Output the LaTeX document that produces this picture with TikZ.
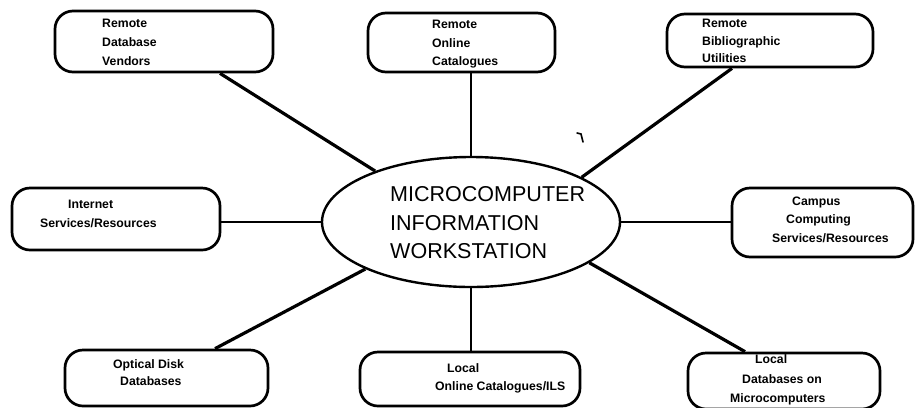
\documentclass[tikz,border=0pt]{standalone}
\usepackage{fontspec}
\setmainfont{Liberation Sans}
\usetikzlibrary{calc,shapes.geometric}
\begin{document}
\begin{tikzpicture}[x=1bp,y=-1bp,
  box/.style={draw,line width=2.7bp,rounded corners=18bp,inner sep=0pt},
  lbl/.style={anchor=base west,inner sep=0pt,font=\bfseries\fontsize{12.3}{14}\selectfont},
  big/.style={anchor=base west,inner sep=0pt,font=\fontsize{21.6}{26}\selectfont},
  link/.style={line width=3.2bp},
  straight/.style={line width=2.2bp}]
\useasboundingbox (0,0) rectangle (915,407);
% central ellipse
\node[draw,ellipse,line width=2.4bp,minimum width=298bp,minimum height=130bp,inner sep=0pt] (e) at (471,222) {};
\node[big] (m1) at (390,201.7) {MICROCOMPUTER};
\node[big] (m2) at (390,230) {INFORMATION};
\node[big] (m3) at (390,258.3) {WORKSTATION};
% boxes
\node[box,minimum width=218bp,minimum height=61bp] (b1) at (164,41.5) {};
\node[box,minimum width=187bp,minimum height=59bp] (b2) at (461.5,42.5) {};
\node[box,minimum width=206bp,minimum height=53bp] (b3) at (770,40.5) {};
\node[box,minimum width=208bp,minimum height=62bp] (b4) at (116,219) {};
\node[box,minimum width=181bp,minimum height=69bp] (b5) at (822.5,222.5) {};
\node[box,minimum width=203bp,minimum height=56bp] (b6) at (166.5,378) {};
\node[box,minimum width=220bp,minimum height=54bp] (b7) at (470,379) {};
\node[box,minimum width=192bp,minimum height=56bp] (b8) at (784,381) {};
% labels
\node[lbl] (t1a) at (102,27) {Remote};
\node[lbl] (t1b) at (102,46) {Database};
\node[lbl] (t1c) at (102,65) {Vendors};
\node[lbl] (t2a) at (432,28) {Remote};
\node[lbl] (t2b) at (432,47) {Online};
\node[lbl] (t2c) at (432,65) {Catalogues};
\node[lbl] (t3a) at (702,27) {Remote};
\node[lbl] (t3b) at (702,45.5) {Bibliographic};
\node[lbl] (t3c) at (702,62.5) {Utilities};
\node[lbl] (t4a) at (68,208) {Internet};
\node[lbl] (t4b) at (40,227) {Services/Resources};
\node[lbl] (t5a) at (792,205) {Campus};
\node[lbl] (t5b) at (786,223) {Computing};
\node[lbl] (t5c) at (772,242) {Services/Resources};
\node[lbl] (t6a) at (113,368) {Optical Disk};
\node[lbl] (t6b) at (120,385) {Databases};
\node[lbl] (t7a) at (447,372) {Local};
\node[lbl] (t7b) at (435,390) {Online Catalogues/ILS};
\node[lbl] (t8a) at (755,363) {Local};
\node[lbl] (t8b) at (742,383) {Databases on};
\node[lbl] (t8c) at (730,402) {Microcomputers};
% connectors
\draw[link] ($(b1.south)+(56,0)$) -- (e.152.5);
\draw[straight] (b2.south -| e.north) -- (e.north);
\draw[link] ($(b3.south)+(-38,0)$) -- (e.22.8);
\draw[straight] (e.west) -- (e.west -| b4.east);
\draw[straight] (e.east) -- (e.east -| b5.west);
\draw[link] ($(b6.north)+(48.5,0)$) -- (e.204.9);
\draw[straight] (e.south) -- (e.south |- b7.north);
\draw[link] ($(b8.north)+(-39,0)$) -- (e.-19.8);
% stray mark
\draw[line width=1.6bp,line cap=round] (577,133) -- (581,134) -- (583,142);
\end{tikzpicture}
\end{document}
